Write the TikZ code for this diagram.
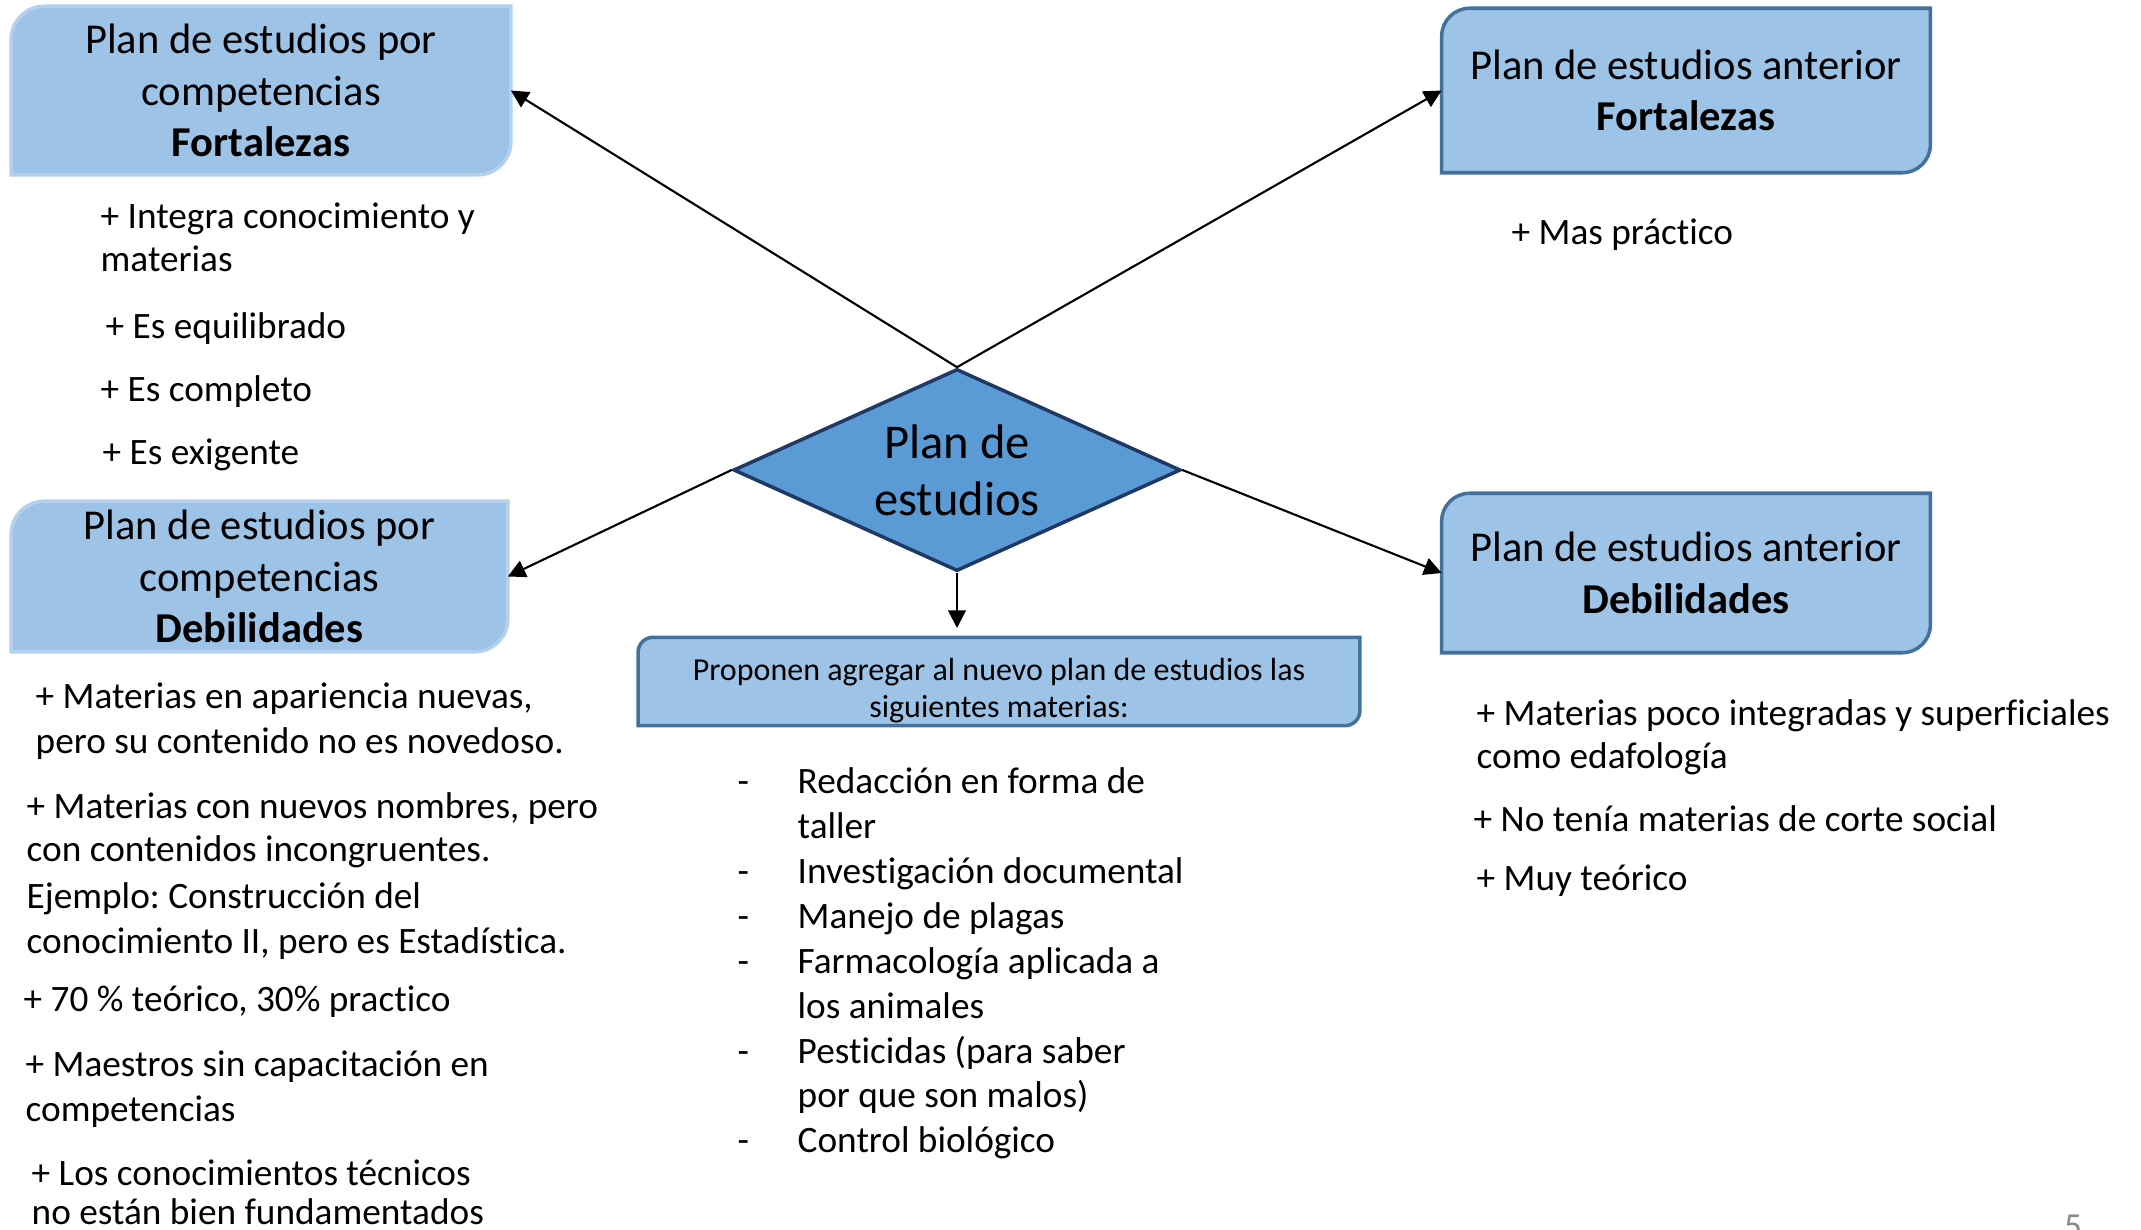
\documentclass[tikz,border=0pt]{standalone}
\usepackage{fontspec}
\setmainfont{Carlito}[Ligatures=NoCommon]
\usetikzlibrary{arrows.meta,shapes.geometric,backgrounds}
\definecolor{boxfill}{HTML}{9DC3E6}
\definecolor{boxlight}{HTML}{B4D0EC}
\definecolor{boxdark}{HTML}{41719C}
\definecolor{dfill}{HTML}{5B9BD5}
\definecolor{ddraw}{HTML}{1F3864}
\definecolor{pgnum}{HTML}{8A8A8A}
\newcommand\diagshape[3]{%
  \path[#3] (#1.west) [rounded corners=#2] |- (#1.north) [sharp corners] -| (#1.east)
    [rounded corners=#2] |- (#1.south) [sharp corners] -| (#1.west) -- cycle;}
\frenchspacing
\begin{document}
\begin{tikzpicture}[x=0.01cm,y=-0.01cm,
  bx/.style={rectangle, inner sep=0, align=center, font=\fontsize{12.1}{14.6}\selectfont},
  lst/.style={anchor=base west, inner sep=0, font=\fontsize{10.6}{12.6}\selectfont},
  arr/.style={-{Triangle[width=5pt,length=5pt]}, line width=0.6pt, black},
  lightbox/.style={fill=boxfill, draw=boxlight, line width=1pt},
  darkbox/.style={fill=boxfill, draw=boxdark, line width=1pt}]
\useasboundingbox (0,0) rectangle (2141,1230);

% boxes
\node[bx, minimum width=4.98cm, minimum height=1.67cm] (tl) at (261,90.5)
  {Plan de estudios por\\competencias\\\textbf{Fortalezas}};
\node[bx, minimum width=4.95cm, minimum height=1.49cm] (bl) at (259.5,576.5)
  {Plan de estudios por\\competencias\\\textbf{Debilidades}};
\node[bx, minimum width=4.87cm, minimum height=1.63cm] (tr) at (1686,90.5)
  {Plan de estudios anterior\\\textbf{Fortalezas}};
\node[bx, minimum width=4.87cm, minimum height=1.58cm] (br) at (1686,573)
  {Plan de estudios anterior\\\textbf{Debilidades}};
\node[rectangle, inner sep=0, minimum width=7.2cm, minimum height=0.87cm] (mid) at (999,681.5) {};
\node[inner sep=0, align=center, font=\fontsize{9.1}{10.5}\selectfont] (midtxt) at (999,690.5)
  {Proponen agregar al nuevo plan de estudios las\\siguientes materias:};

\begin{scope}[on background layer]
  \diagshape{tl}{0.33cm}{lightbox}
  \diagshape{bl}{0.33cm}{lightbox}
  \diagshape{tr}{0.28cm}{darkbox}
  \diagshape{br}{0.28cm}{darkbox}
  \diagshape{mid}{0.15cm}{darkbox}
\end{scope}

% diamond
\node[diamond, aspect=2.2, inner sep=0, minimum width=4.47cm, minimum height=2.02cm,
  fill=dfill, draw=ddraw, line width=1pt, align=center,
  font=\fontsize{13.8}{16.2}\selectfont] (d) at (957,470) {Plan de\\estudios};
\coordinate (dtip) at (957,628);

% connectors
\draw[arr] (d.north) -- (tl.east);
\draw[arr] (d.north) -- (tr.west);
\draw[arr] (d.west) -- (bl.east);
\draw[arr] (d.east) -- (br.west);
\draw[arr] (d.south) -- (dtip);

% left top list
\node[lst] (a1) at (100,228) {+ Integra conocimiento y};
\node[lst] (a2) at (100,271) {materias};
\node[lst] (a3) at (105,338) {+ Es equilibrado};
\node[lst] (a4) at (100,401) {+ Es completo};
\node[lst] (a5) at (102,464) {+ Es exigente};

% right top list
\node[lst] (b1) at (1511,244) {+ Mas práctico};

% right bottom list
\node[lst] (c1) at (1476,725) {+ Materias poco integradas y superficiales};
\node[lst] (c2) at (1476,768) {como edafología};
\node[lst] (c3) at (1473,831) {+ No tenía materias de corte social};
\node[lst] (c4) at (1476,890) {+ Muy teórico};

% left bottom list
\node[lst] (e1) at (35,708) {+ Materias en apariencia nuevas,};
\node[lst] (e2) at (35,753) {pero su contenido no es novedoso.};
\node[lst] (e3) at (26,818) {+ Materias con nuevos nombres, pero};
\node[lst] (e4) at (26,861) {con contenidos incongruentes.};
\node[lst] (e5) at (26,908) {Ejemplo: Construcción del};
\node[lst] (e6) at (26,953) {conocimiento II, pero es Estadística.};
\node[lst] (e7) at (23,1011) {+ 70 \% teórico, 30\% practico};
\node[lst] (e8) at (25,1076) {+ Maestros sin capacitación en};
\node[lst] (e9) at (25,1121) {competencias};
\node[lst] (e10) at (31,1185) {+ Los conocimientos técnicos};
\node[lst] (e11) at (31,1224) {no están bien fundamentados};

% middle list
\node[lst] (m1) at (737,793) {\makebox[0.6cm][l]{-}Redacción en forma de};
\node[lst] (m2) at (797,838) {taller};
\node[lst] (m3) at (737,883) {\makebox[0.6cm][l]{-}Investigación documental};
\node[lst] (m4) at (737,928) {\makebox[0.6cm][l]{-}Manejo de plagas};
\node[lst] (m5) at (737,973) {\makebox[0.6cm][l]{-}Farmacología aplicada a};
\node[lst] (m6) at (797,1018) {los animales};
\node[lst] (m7) at (737,1063) {\makebox[0.6cm][l]{-}Pesticidas (para saber};
\node[lst] (m8) at (797,1107) {por que son malos)};
\node[lst] (m9) at (737,1152) {\makebox[0.6cm][l]{-}Control biológico};

% page number
\node[anchor=base, inner sep=0, text=pgnum, font=\fontsize{10}{12}\selectfont] (pg) at (2073,1237) {5};
\end{tikzpicture}
\end{document}
